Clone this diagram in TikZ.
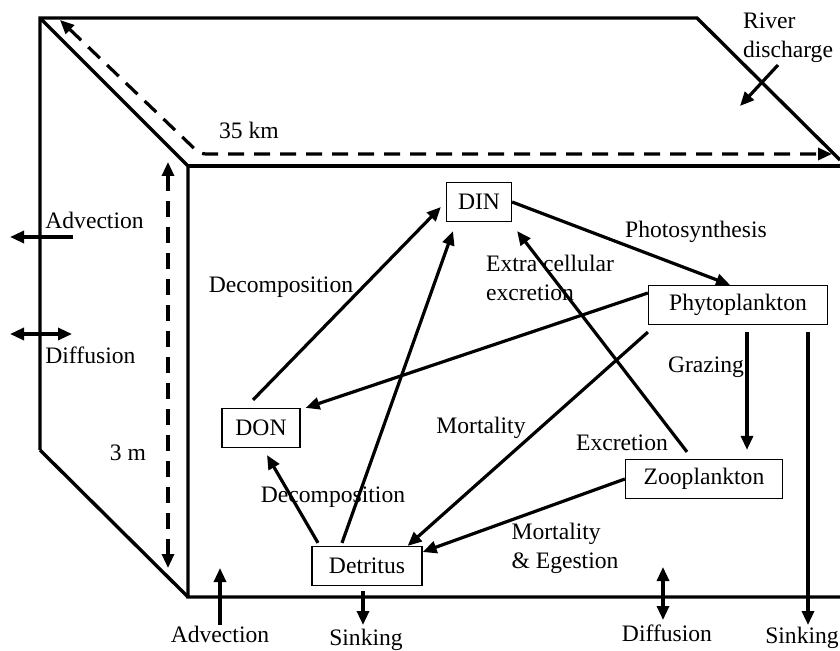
\documentclass[tikz,border=0pt]{standalone}
\usepackage{fontspec}
\setmainfont{Liberation Serif}
\usetikzlibrary{arrows.meta}

\begin{document}
\begin{tikzpicture}[
    x=0.5pt, y=-0.5pt,
    font=\fontsize{11.8}{14.5}\selectfont,
    box/.style={rectangle, draw, line width=0.6pt, minimum height=19.5pt, inner sep=2pt},
    arrow/.style={-{Triangle[length=7pt,width=6pt]}, line width=1.6pt},
    twoway/.style={{Triangle[length=7pt,width=6pt]}-{Triangle[length=7pt,width=6pt]}, line width=1.6pt},
    frame/.style={line width=1.7pt, line join=miter},
    guide/.style={line width=1.6pt, dash pattern=on 8pt off 5pt}
]
    \useasboundingbox (0,0) rectangle (840,651);

    % Water column
    \draw[frame] (188,166) -- (840,166);
    \draw[frame] (40,450) -- (40,18) -- (697,18) -- (840,160);
    \draw[frame] (40,18) -- (188,166) -- (188,597) -- (840,597);
    \draw[frame] (40,450) -- (188,597);

    % Dimensions
    \coordinate (lenW) at (60,20);
    \coordinate (corner) at (200,154);
    \coordinate (lenE) at (832,154);
    \coordinate (depT) at (168,162);
    \coordinate (depB) at (168,568);
    \draw[guide, twoway, line width=1.6pt, rounded corners=3pt] (lenW) -- (corner) -- (lenE);
    \draw[guide, twoway, line width=1.6pt] (depT) -- (depB);
    \node (lLength) at (249,130) {35 km};
    \node (lDepth) at (128,453) {3 m};

    % Compartments
    \node[box, minimum width=32.5pt] (din) at (479,202) {DIN};
    \node[box, minimum width=89.5pt] (phyto) at (738,305) {Phytoplankton};
    \node[box, minimum width=39pt] (don) at (261,428) {DON};
    \node[box, minimum width=55pt] (detritus) at (367,566) {Detritus};
    \node[box, minimum width=78.5pt] (zoo) at (704,479) {Zooplankton};

    % Fluxes
    \draw[arrow] (din.east) -- ([xshift=-4pt]phyto.north);
    \draw[arrow] ([xshift=-4pt,yshift=4pt]don.north) -- ([xshift=-2.5pt,yshift=-2.5pt]din.west);
    \draw[arrow] ([xshift=-12.5pt,yshift=1.5pt]detritus.north) -- ([xshift=-13pt,yshift=-4.5pt]din.south);
    \draw[arrow] ([xshift=-8.5pt,yshift=3.5pt]zoo.north) -- ([xshift=2.5pt,yshift=-4.5pt]din.south east);
    \draw[arrow] ([yshift=6pt]phyto.west) -- ([xshift=2.5pt]don.north east);
    \draw[arrow] ([yshift=-3.5pt]phyto.south west) -- ([xshift=-7.5pt]detritus.north east);
    \draw[arrow] (zoo.west) -- ([yshift=7pt]detritus.east);
    \draw[arrow] ([xshift=-24.5pt,yshift=1.5pt]detritus.north) -- ([xshift=3pt,yshift=-3.5pt]don.south);
    \coordinate (grazeTop) at ([xshift=4.5pt,yshift=-3.5pt]phyto.south);
    \draw[arrow, shorten >=4.5pt] (grazeTop) -- (grazeTop |- zoo.north);

    \node (lPhoto) at (696,232) {Photosynthesis};
    \node[align=left] (lExtra) at (550,278) {Extra cellular\\excretion};
    \node (lDecTop) at (281,287) {Decomposition};
    \node (lMortP) at (481,428) {Mortality};
    \node (lExcr) at (622,443) {Excretion};
    \node (lGraze) at (706,367) {Grazing};
    \node (lDecBot) at (333,497) {Decomposition};
    \node[align=left] (lMortZ) at (565,548) {Mortality\\\& Egestion};

    % Exchanges at the boundaries
    \coordinate (advWa) at (73,237);
    \coordinate (advWb) at (10,237);
    \coordinate (difWa) at (10,334);
    \coordinate (difWb) at (72,334);
    \coordinate (advBa) at (220,625);
    \coordinate (advBb) at (220,568);
    \coordinate (sinkD) at (363,625);
    \coordinate (difBa) at (663,567);
    \coordinate (difBb) at (663,620);
    \coordinate (sinkR) at (808,625);
    \coordinate (sinkTop) at ([xshift=35pt,yshift=-3.5pt]phyto.south);
    \coordinate (riverA) at (778,65);
    \coordinate (riverB) at (740,106);

    \draw[arrow] (advWa) -- (advWb);
    \draw[twoway] (difWa) -- (difWb);
    \draw[arrow] (advBa) -- (advBb);
    \draw[arrow] ([yshift=-2.5pt]detritus.south -| sinkD) -- (sinkD);
    \draw[twoway] (difBa) -- (difBb);
    \draw[arrow] (sinkTop) -- (sinkTop |- sinkR);
    \draw[arrow] (riverA) -- (riverB);

    \node[anchor=west, inner sep=0pt] (lAdvW) at (45,220) {Advection};
    \node[anchor=west, inner sep=0pt] (lDifW) at (45,355) {Diffusion};
    \node (lAdvB) at (220,634) {Advection};
    \node (lSinkD) at (366,640) {Sinking};
    \node (lDifB) at (667,633) {Diffusion};
    \node (lSinkR) at (802,638) {Sinking};
    \node[align=left] (lRiver) at (788,38) {River\\discharge};
\end{tikzpicture}
\end{document}
